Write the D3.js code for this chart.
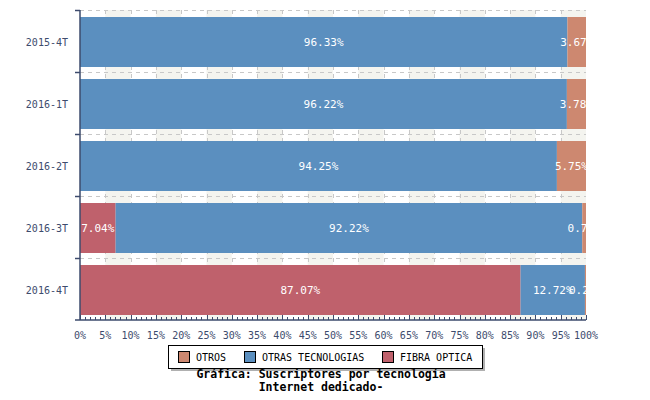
<!DOCTYPE html>
<html>
<head>
<meta charset="utf-8">
<script src="https://cdn.jsdelivr.net/npm/d3@7"></script>
<style>
  body { margin: 0; background: #fff; }
  svg { display: block; }
</style>
</head>
<body>
<svg id="chart" width="650" height="400"></svg>
<script>
const categories = ["2015-4T", "2016-1T", "2016-2T", "2016-3T", "2016-4T"];
const seriesNames = ["FIBRA OPTICA", "OTRAS TECNOLOGIAS", "OTROS"];
const fibraOptica = [0, 0, 0, 7.04, 87.07];
const otrasTecnologias = [96.33, 96.22, 94.25, 92.22, 12.72];
const otros = [3.67, 3.78, 5.75, 0.74, 0.21];
const xTicks = d3.range(0, 101, 5);
const legendOrder = ["OTROS", "OTRAS TECNOLOGIAS", "FIBRA OPTICA"];
const titleLines = ["Gráfica: Suscriptores por tecnología", "Internet dedicado-"];

const colors = {
  "FIBRA OPTICA": "#bf616c",
  "OTRAS TECNOLOGIAS": "#5b8fbf",
  "OTROS": "#cd8870",
};

const margin = { top: 10, right: 64, bottom: 80, left: 80 };
const width = 650;
const height = 400;
const axisColor = "#3d4b6d";
const mono = "'DejaVu Sans Mono', monospace";

const svg = d3.select("#chart");

const x = d3.scaleLinear().domain([0, 100]).range([margin.left, width - margin.right]);
const y = d3.scaleBand().domain(categories).range([margin.top, height - margin.bottom]);

const rows = categories.map((cat, i) => ({
  cat,
  "FIBRA OPTICA": fibraOptica[i],
  "OTRAS TECNOLOGIAS": otrasTecnologias[i],
  "OTROS": otros[i],
}));
const stacked = d3.stack().keys(seriesNames)(rows);

// alternating background columns
svg.append("g")
  .selectAll("rect")
  .data(xTicks.slice(0, -1).filter((t, i) => i % 2 === 1))
  .join("rect")
  .attr("x", (t) => x(t))
  .attr("y", margin.top)
  .attr("width", (t) => x(t + 5) - x(t))
  .attr("height", height - margin.bottom - margin.top)
  .attr("fill", "#f4f4ef");

// grid
const grid = svg.append("g").attr("stroke", "#c8c8c8").attr("stroke-dasharray", "4,4");
grid.selectAll("line.h")
  .data(categories)
  .join("line")
  .attr("class", "h")
  .attr("x1", margin.left)
  .attr("x2", width - margin.right)
  .attr("y1", (c) => y(c) + 0.5)
  .attr("y2", (c) => y(c) + 0.5);
grid.selectAll("line.v")
  .data(xTicks.slice(1, -1))
  .join("line")
  .attr("class", "v")
  .attr("x1", (t) => Math.round(x(t)) + 0.5)
  .attr("x2", (t) => Math.round(x(t)) + 0.5)
  .attr("y1", margin.top)
  .attr("y2", height - margin.bottom);

// bars
const barTop = 7;
const barH = 50;
const layers = svg.append("g")
  .selectAll("g")
  .data(stacked)
  .join("g")
  .attr("fill", (d) => colors[d.key]);

layers.selectAll("rect")
  .data((d) => d)
  .join("rect")
  .attr("x", (d) => x(d[0]))
  .attr("y", (d) => y(d.data.cat) + barTop)
  .attr("width", (d) => x(d[1]) - x(d[0]))
  .attr("height", barH);

// value labels, clipped to plot area
svg.append("clipPath")
  .attr("id", "plotClip")
  .append("rect")
  .attr("x", margin.left)
  .attr("y", margin.top)
  .attr("width", width - margin.right - margin.left)
  .attr("height", height - margin.bottom - margin.top);

const labels = [];
for (const layer of stacked) {
  for (const d of layer) {
    const v = d[1] - d[0];
    if (v > 0) labels.push({ cat: d.data.cat, mid: (d[0] + d[1]) / 2, v });
  }
}
svg.append("g")
  .attr("clip-path", "url(#plotClip)")
  .selectAll("text")
  .data(labels)
  .join("text")
  .attr("x", (d) => x(d.mid))
  .attr("y", (d) => y(d.cat) + barTop + barH / 2)
  .attr("text-anchor", "middle")
  .attr("dominant-baseline", "central")
  .attr("fill", "#fff")
  .attr("font-family", mono)
  .attr("font-size", 11)
  .text((d) => d.v.toFixed(2) + "%");

// bottom axis
const xAxis = svg.append("g").attr("transform", `translate(0,${height - margin.bottom})`);
xAxis.append("line")
  .attr("x1", margin.left - 5).attr("x2", x(100))
  .attr("stroke", axisColor).attr("stroke-width", 1.5);
xAxis.selectAll("line.minor")
  .data(d3.range(0, 101, 1))
  .join("line")
  .attr("class", "minor")
  .attr("x1", (t) => Math.round(x(t)) + 0.5)
  .attr("x2", (t) => Math.round(x(t)) + 0.5)
  .attr("y1", 0)
  .attr("y2", (t) => (t % 5 === 0 ? -5 : -3))
  .attr("stroke", axisColor);
xAxis.selectAll("text")
  .data(xTicks)
  .join("text")
  .attr("x", (t) => x(t))
  .attr("y", 19)
  .attr("text-anchor", "middle")
  .attr("fill", axisColor)
  .attr("font-family", mono)
  .attr("font-size", 10)
  .text((t) => t + "%");

// left axis
const yAxis = svg.append("g");
yAxis.append("line")
  .attr("x1", margin.left).attr("x2", margin.left)
  .attr("y1", margin.top).attr("y2", height - margin.bottom)
  .attr("stroke", axisColor).attr("stroke-width", 1.5);
yAxis.selectAll("line.tick")
  .data(categories)
  .join("line")
  .attr("class", "tick")
  .attr("x1", margin.left - 5).attr("x2", margin.left)
  .attr("y1", (c) => y(c) + 0.5).attr("y2", (c) => y(c) + 0.5)
  .attr("stroke", axisColor).attr("stroke-width", 1.5);
yAxis.selectAll("text")
  .data(categories)
  .join("text")
  .attr("x", margin.left - 12)
  .attr("y", (c) => y(c) + barTop + barH / 2)
  .attr("text-anchor", "end")
  .attr("dominant-baseline", "central")
  .attr("fill", axisColor)
  .attr("font-family", mono)
  .attr("font-size", 10)
  .text((c) => c);

// legend
const legend = svg.append("g").attr("transform", "translate(168,345)");
legend.append("rect").attr("x", 3).attr("y", 3).attr("width", 314).attr("height", 23).attr("fill", "#b0b0b0");
legend.append("rect").attr("x", 0.5).attr("y", 0.5).attr("width", 314).attr("height", 23)
  .attr("fill", "#fff").attr("stroke", "#000");
const itemX = [10, 76, 214];
const items = legend.selectAll("g.item")
  .data(legendOrder)
  .join("g")
  .attr("class", "item")
  .attr("transform", (d, i) => `translate(${itemX[i]},6)`);
items.append("rect")
  .attr("x", 0.5).attr("y", 0.5).attr("width", 11).attr("height", 11)
  .attr("fill", (d) => colors[d]).attr("stroke", "#000");
items.append("text")
  .attr("x", 18).attr("y", 6)
  .attr("dominant-baseline", "central")
  .attr("font-family", mono)
  .attr("font-size", 10)
  .attr("fill", "#000")
  .text((d) => d);

// title
svg.append("g")
  .selectAll("text")
  .data(titleLines)
  .join("text")
  .attr("x", 321)
  .attr("y", (d, i) => 378 + i * 13)
  .attr("text-anchor", "middle")
  .attr("font-family", mono)
  .attr("font-weight", "bold")
  .attr("font-size", 11.5)
  .attr("fill", "#000")
  .text((d) => d);
</script>
</body>
</html>
